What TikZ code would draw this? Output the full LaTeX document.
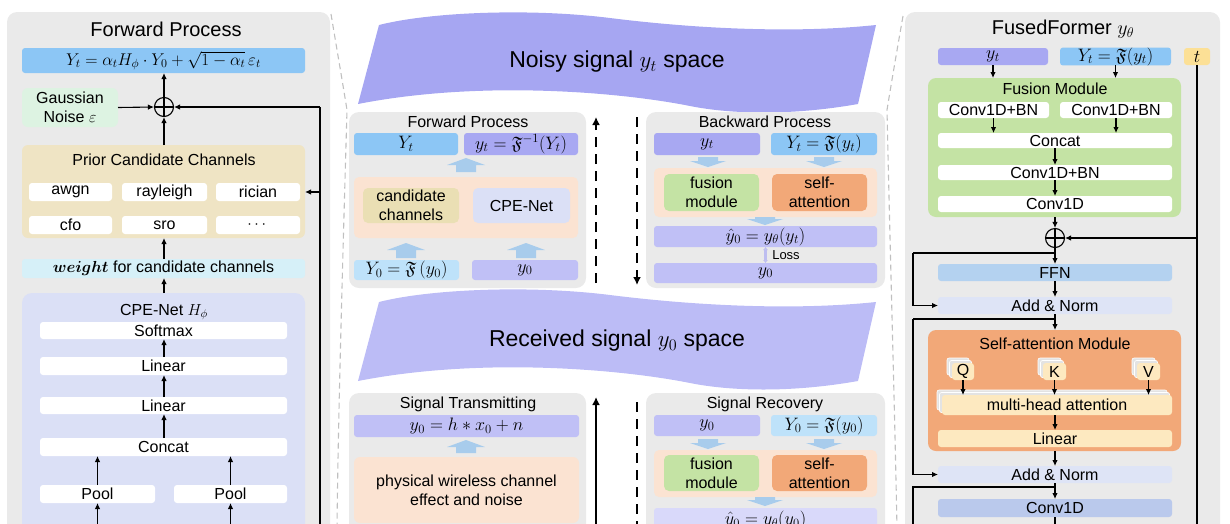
\documentclass[tikz,border=0pt]{standalone}
\usepackage{fix-cm}
\usepackage{amsmath,amssymb,bm}
\usepackage{fontspec}
\setmainfont{Liberation Sans}
\usetikzlibrary{arrows.meta}
\definecolor{panel}{RGB}{234,234,234}
\definecolor{fblue}{RGB}{140,198,245}
\definecolor{lblue}{RGB}{190,226,250}
\definecolor{purp}{RGB}{168,168,242}
\definecolor{lpurp}{RGB}{192,192,246}
\definecolor{peach}{RGB}{251,227,210}
\definecolor{khaki}{RGB}{234,223,180}
\definecolor{priorc}{RGB}{239,228,196}
\definecolor{cpec}{RGB}{219,224,246}
\definecolor{fgreen}{RGB}{196,227,164}
\definecolor{sorange}{RGB}{242,168,120}
\definecolor{gnoise}{RGB}{221,243,226}
\definecolor{wcyan}{RGB}{214,240,248}
\definecolor{ffnc}{RGB}{180,210,240}
\definecolor{anorm}{RGB}{222,228,246}
\definecolor{convb}{RGB}{186,201,236}
\definecolor{tyel}{RGB}{252,224,150}
\definecolor{lyel}{RGB}{253,233,192}
\definecolor{barrow}{RGB}{168,204,236}
\definecolor{ribA}{RGB}{166,166,242}
\definecolor{ribB}{RGB}{188,188,246}
\definecolor{dgray}{RGB}{192,192,192}
\definecolor{lossc}{RGB}{190,190,240}
\newcommand{\fsz}[2]{\fontsize{#1}{#2}\selectfont}
\newcommand{\bx}[7]{\node[#6, minimum width={(#4)-(#2)}, minimum height={(#5)-(#3)}] (#1) at ({((#2)+(#4))/2},{((#3)+(#5))/2}) {#7};}
\newcommand{\uparr}[3]{\fill[barrow] ({#1-10},#3) -- ({#1-10},{#2+7}) -- ({#1-19},{#2+7}) -- (#1,#2) -- ({#1+19},{#2+7}) -- ({#1+10},{#2+7}) -- ({#1+10},#3) -- cycle;}
\newcommand{\dnarr}[3]{\fill[barrow] ({#1-10},#2) -- ({#1-10},{#3-6}) -- ({#1-18},{#3-6}) -- (#1,#3) -- ({#1+18},{#3-6}) -- ({#1+10},{#3-6}) -- ({#1+10},#2) -- cycle;}
\begin{document}
\begin{tikzpicture}[x=1pt,y=-1pt,
 base/.style={inner sep=0pt,outer sep=0pt,align=center,font=\fsz{16}{19}},
 rbox/.style={base,rounded corners=3pt},
 pbox/.style={base,rounded corners=10pt,fill=panel},
 wbox/.style={rbox,fill=white},
 mth/.style={font=\fsz{18}{20}},
 ttl/.style={inner sep=0pt,font=\fsz{20}{24}},
 stl/.style={inner sep=0pt,font=\fsz{16}{19}},
 rtl/.style={inner sep=0pt,font=\fsz{23}{27}},
 arr/.style={-{Latex[length=6pt,width=5.5pt]},line width=1.1pt},
 ln/.style={line width=1.1pt},
 opc/.style={circle,draw,line width=1.1pt,minimum size=19pt,inner sep=0pt},
 darr/.style={line width=2.5pt,dash pattern=on 10pt off 7pt,-{Latex[length=8pt,width=8pt]}},
 sarr/.style={line width=2pt,-{Latex[length=8pt,width=8pt]}},
 gdash/.style={draw=dgray,line width=1.1pt,dash pattern=on 6pt off 4pt},
 shd/.style={fill=gray!22,draw=white,line width=0.6pt,rounded corners=2pt},
 lossarr/.style={draw=lossc,line width=2.5pt,{Latex[length=3pt,width=5pt]}-{Latex[length=3pt,width=5pt]}},
]
\useasboundingbox (0,0) rectangle (1230,523);

% ---------------- left panel ----------------
\bx{lp}{7}{12}{330}{560}{pbox}{}
\node[ttl] (lpt) at (166,29) {Forward Process};
\bx{fbar}{22}{48}{305}{73}{rbox,fill=fblue,font=\fsz{17}{20}}{$Y_t=\alpha_t H_\phi\cdot Y_0+\sqrt{1-\alpha_t}\,\varepsilon_t$}
\bx{gauss}{22}{88}{118}{127}{rbox,fill=gnoise,rounded corners=6pt}{Gaussian\\Noise $\varepsilon$}
\node[opc] (op) at (164,107) {};
\draw[ln] (op.north) -- (op.south) (op.west) -- (op.east);
\bx{prior}{22}{145}{305}{238}{rbox,fill=priorc,rounded corners=6pt}{}
\node[stl] (priort) at (164,160) {Prior Candidate Channels};
\bx{awgn}{29}{183}{112}{201}{wbox}{awgn}
\bx{rayleigh}{122}{183}{207}{201}{wbox}{rayleigh}
\bx{rician}{216}{183}{300}{201}{wbox}{rician}
\bx{cfo}{29}{216}{112}{234}{wbox}{cfo}
\bx{sro}{122}{216}{207}{234}{wbox}{sro}
\bx{dots}{216}{216}{300}{234}{wbox}{$\cdots$}
\bx{weight}{22}{259}{305}{278}{rbox,fill=wcyan}{$\bm{weight}$ for candidate channels}
\bx{cpe}{22}{293}{305}{560}{pbox,fill=cpec}{}
\node[stl] (cpet) at (164,312) {CPE-Net $H_\phi$};
\bx{softmax}{40}{322}{287}{339}{wbox}{Softmax}
\bx{lin1}{40}{357}{287}{375}{wbox}{Linear}
\bx{lin2}{40}{397}{287}{414}{wbox}{Linear}
\bx{concat}{40}{438}{287}{456}{wbox}{Concat}
\bx{pool1}{40}{485}{155}{503}{wbox}{Pool}
\bx{pool2}{174}{485}{287}{503}{wbox}{Pool}

\draw[arr] (gauss.east) -- (op.west);
\draw[arr] (op.north) -- (op.north |- fbar.south);
\draw[arr] (op.south |- prior.north) -- (op.south);
\draw[arr] (op.south |- weight.north) -- (op.south |- prior.south);
\draw[arr] (op.south |- cpe.north) -- (op.south |- weight.south);
\draw[arr] (op.south |- lin1.north) -- (op.south |- softmax.south);
\draw[arr] (op.south |- lin2.north) -- (op.south |- lin1.south);
\draw[arr] (op.south |- concat.north) -- (op.south |- lin2.south);
\draw[arr] (pool1.north) -- (pool1.north |- concat.south);
\draw[arr] (pool2.north) -- (pool2.north |- concat.south);
\path (pool1.south) ++(0,40) coordinate (pb1);
\path (pool2.south) ++(0,40) coordinate (pb2);
\draw[arr] (pb1) -- (pool1.south);
\draw[arr] (pb2) -- (pool2.south);
\coordinate (lr1) at (320,107);
\coordinate (lr2) at (320,560);
\draw[ln] (lr2) -- (lr1);
\draw[arr] (lr1) -- (op.east);
\draw[arr] (lr2 |- rician) -- (prior.east |- rician);

% ---------------- gray zoom lines ----------------
\draw[gdash] (331,14) .. controls (337,50) and (343,85) .. (347,110) .. controls (343,250) and (338,420) .. (337,530);
\draw[gdash] (903,16) .. controls (897,50) and (891,85) .. (887,110) .. controls (890,250) and (895,420) .. (897,530);

% ---------------- ribbons ----------------
\fill[ribA] (379,25) .. controls (430,12) and (530,8) .. (610,18) .. controls (690,28) and (790,34) .. (876,25) -- (858,104) .. controls (790,116) and (730,114) .. (690,106) .. controls (620,92) and (480,80) .. (358,104) -- cycle;
\node[rtl] (rib1) at (617,62) {Noisy signal $y_t$ space};
\begin{scope}[shift={(0,277)}]
\fill[ribB] (379,25) .. controls (430,12) and (530,8) .. (610,18) .. controls (690,28) and (790,34) .. (876,25) -- (858,104) .. controls (790,116) and (730,114) .. (690,106) .. controls (620,92) and (480,80) .. (358,104) -- cycle;
\end{scope}
\node[rtl] (rib2) at (617,341) {Received signal $y_0$ space};

% ---------------- middle: forward process ----------------
\bx{mf}{349}{112}{586}{288}{pbox}{}
\node[stl] (mft) at (468,122) {Forward Process};
\bx{mfY}{354}{133}{458}{155}{rbox,fill=fblue,mth}{$Y_t$}
\bx{mfy}{464}{133}{578}{155}{rbox,fill=purp,mth}{$y_t=\mathfrak{F}^{-1}(Y_t)$}
\uparr{466}{158}{172}
\bx{mfp}{354}{177}{578}{238}{rbox,fill=peach,rounded corners=5pt}{}
\bx{mfc}{363}{188}{459}{223}{rbox,fill=khaki,rounded corners=5pt}{candidate\\channels}
\bx{mfn}{473}{188}{570}{223}{rbox,fill=cpec,rounded corners=5pt}{CPE-Net}
\uparr{406}{243}{258}
\uparr{526}{243}{258}
\bx{mfY0}{354}{260}{459}{280}{rbox,fill=lblue,mth}{$Y_0=\mathfrak{F}\,(y_0)$}
\bx{mfy0}{472}{260}{578}{280}{rbox,fill=lpurp,mth}{$y_0$}

% ---------------- middle: backward process ----------------
\bx{mb}{646}{112}{885}{288}{pbox}{}
\node[stl] (mbt) at (765,122) {Backward Process};
\bx{mby}{654}{133}{760}{155}{rbox,fill=purp,mth}{$y_t$}
\bx{mbY}{771}{133}{877}{155}{rbox,fill=fblue,mth}{$Y_t=\mathfrak{F}(y_t)$}
\dnarr{708}{157}{167}
\dnarr{824}{157}{167}
\bx{mbp}{654}{168}{877}{217}{rbox,fill=peach,rounded corners=5pt}{}
\bx{mbf}{664}{174}{759}{211}{rbox,fill=fgreen,rounded corners=5pt}{fusion\\module}
\bx{mbs}{772}{174}{867}{211}{rbox,fill=sorange,rounded corners=5pt}{self-\\attention}
\dnarr{765}{217}{225}
\bx{mbh}{654}{226}{877}{247}{rbox,fill=lpurp,mth}{$\hat{y}_0=y_\theta(y_t)$}
\bx{mb0}{654}{263}{877}{283}{rbox,fill=lpurp,mth}{$y_0$}
\draw[lossarr] (mbh.south) -- (mb0.north);
\node[font=\fsz{13}{15},inner sep=0pt] (loss) at (786,255) {Loss};

% dashed process arrows
\coordinate (du1) at (596,283);
\coordinate (du2) at (596,117);
\draw[darr] (du1) -- (du2);
\coordinate (dd1) at (637,117);
\coordinate (dd2) at (637,285);
\draw[darr] (dd1) -- (dd2);
\coordinate (su1) at (596,560);
\coordinate (su2) at (596,397);
\draw[sarr] (su1) -- (su2);
\coordinate (dd3) at (637,402);
\coordinate (dd4) at (637,560);
\draw[darr] (dd3) -- (dd4);

% ---------------- middle: signal transmitting ----------------
\bx{ms}{349}{393}{586}{560}{pbox}{}
\node[stl] (mst) at (468,404) {Signal Transmitting};
\bx{msy}{354}{415}{579}{437}{rbox,fill=lpurp,mth}{$y_0=h*x_0+n$}
\uparr{466}{440}{453}
\bx{msp}{354}{457}{579}{523}{rbox,fill=peach,rounded corners=6pt}{physical wireless channel\\effect and noise}

% ---------------- middle: signal recovery ----------------
\bx{mr}{646}{393}{885}{560}{pbox}{}
\node[stl] (mrt) at (765,404) {Signal Recovery};
\bx{mry}{654}{415}{760}{436}{rbox,fill=lpurp,mth}{$y_0$}
\bx{mrY}{771}{415}{877}{436}{rbox,fill=lblue,mth}{$Y_0=\mathfrak{F}(y_0)$}
\dnarr{708}{439}{449}
\dnarr{824}{439}{449}
\bx{mrp}{654}{450}{877}{497}{rbox,fill=peach,rounded corners=5pt}{}
\bx{mrf}{664}{455}{759}{491}{rbox,fill=fgreen,rounded corners=5pt}{fusion\\module}
\bx{mrs}{772}{455}{867}{491}{rbox,fill=sorange,rounded corners=5pt}{self-\\attention}
\dnarr{765}{497}{506}
\bx{mrh}{654}{508}{877}{532}{rbox,fill=lpurp!60!white,mth}{$\hat{y}_0=y_\theta(y_0)$}

% ---------------- right panel ----------------
\bx{rp}{905}{12}{1220}{560}{pbox}{}
\node[ttl] (rpt) at (1063,29) {FusedFormer $y_\theta$};
\bx{ryt}{938}{48}{1048}{65}{rbox,fill=purp,mth}{$y_t$}
\bx{rYt}{1060}{48}{1171}{65}{rbox,fill=fblue,mth}{$Y_t=\mathfrak{F}(y_t)$}
\bx{rt}{1184}{48}{1210}{65}{rbox,fill=tyel,mth}{$t$}
\bx{fm}{928}{78}{1181}{217}{rbox,fill=fgreen,rounded corners=8pt}{}
\node[stl] (fmt) at (1055,89) {Fusion Module};
\bx{cbn1}{938}{102}{1049}{118}{wbox}{Conv1D+BN}
\bx{cbn2}{1060}{102}{1172}{118}{wbox}{Conv1D+BN}
\bx{fcat}{938}{133}{1172}{148}{wbox}{Concat}
\bx{fcbn}{938}{165}{1172}{180}{wbox}{Conv1D+BN}
\bx{fconv}{938}{196}{1172}{212}{wbox}{Conv1D}
\node[opc] (op2) at (1055,238) {};
\draw[ln] (op2.north) -- (op2.south) (op2.west) -- (op2.east);
\bx{ffn}{938}{264}{1172}{281}{rbox,fill=ffnc}{FFN}
\bx{an1}{938}{297}{1172}{314}{rbox,fill=anorm}{Add \& Norm}
\bx{sam}{928}{330}{1181}{451}{rbox,fill=sorange,rounded corners=8pt}{}
\node[stl] (samt) at (1055,344) {Self-attention Module};
\foreach \xa/\xb in {952/974,1043/1066,1137/1160}{
  \fill[shd] (\xa-5,358) rectangle (\xb-5,375);
  \fill[shd] (\xa-2.5,360.5) rectangle (\xb-2.5,377.5);
}
\fill[shd] (937,390) rectangle (1167,410);
\fill[shd] (939.5,392.5) rectangle (1169.5,412.5);
\bx{qb}{952}{363}{974}{380}{rbox,fill=lyel}{Q}
\bx{kb}{1043}{363}{1066}{380}{rbox,fill=lyel}{K}
\bx{vb}{1137}{363}{1160}{380}{rbox,fill=lyel}{V}
\bx{mha}{942}{395}{1172}{415}{rbox,fill=lyel}{multi-head attention}
\bx{lin}{938}{430}{1172}{447}{rbox,fill=lyel}{Linear}
\bx{an2}{938}{466}{1172}{483}{rbox,fill=anorm}{Add \& Norm}
\bx{conv}{938}{499}{1172}{517}{rbox,fill=convb}{Conv1D}

\draw[arr] (ryt.south) -- (ryt.south |- fm.north);
\draw[arr] (rYt.south) -- (rYt.south |- fm.north);
\draw[arr] (cbn1.south) -- (cbn1.south |- fcat.north);
\draw[arr] (cbn2.south) -- (cbn2.south |- fcat.north);
\draw[arr] (op2 |- fcat.south) -- (op2 |- fcbn.north);
\draw[arr] (op2 |- fcbn.south) -- (op2 |- fconv.north);
\draw[arr] (op2 |- fm.south) -- (op2.north);
\coordinate (tb) at (1197,560);
\draw[ln] (rt.south) -- (rt.south |- tb);
\draw[arr] (rt.south |- op2) -- (op2.east);
\draw[arr] (op2.south) -- (op2.south |- ffn.north);
\coordinate (r1) at (1055,253);
\coordinate (l1) at (913,253);
\draw[ln] (r1) -- (l1);
\draw[arr] (l1) |- (an1.west);
\draw[arr] (op2 |- ffn.south) -- (op2 |- an1.north);
\coordinate (r2) at (1055,319);
\coordinate (l2) at (913,319);
\draw[ln] (r2) -- (l2);
\draw[arr] (l2) |- (an2.west);
\draw[arr] (op2 |- an1.south) -- (op2 |- sam.north);
\draw[arr] (qb.south) -- (qb.south |- mha.north);
\draw[arr] (kb.south) -- (kb.south |- mha.north);
\draw[arr] (vb.south) -- (vb.south |- mha.north);
\draw[arr] (op2 |- mha.south) -- (op2 |- lin.north);
\draw[arr] (op2 |- sam.south) -- (op2 |- an2.north);
\coordinate (r3) at (1055,487);
\coordinate (l3) at (913,487);
\coordinate (l3b) at (913,560);
\draw[ln] (r3) -- (l3) -- (l3b);
\draw[arr] (op2 |- an2.south) -- (op2 |- conv.north);
\path (op2 |- conv.south) ++(0,30) coordinate (cb);
\draw[ln] (op2 |- conv.south) -- (cb);
\end{tikzpicture}
\end{document}
